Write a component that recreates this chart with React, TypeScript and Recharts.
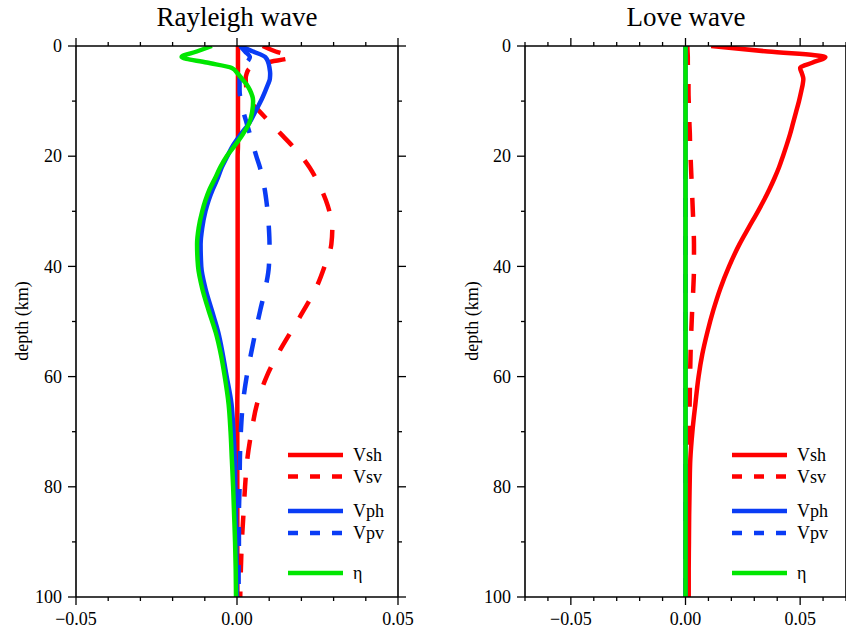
import React from 'react';
import { LineChart, Line, XAxis, YAxis, Legend } from 'recharts';

const depth = [0, 1, 2, 3, 4, 5, 6, 7, 8, 10, 12, 14, 16, 18, 20, 22, 24, 26, 28, 30, 33, 36, 40, 44, 48, 52, 56, 60, 65, 70, 75, 80, 85, 90, 95, 100];

// Rayleigh wave sensitivities
const rayVsh = [0.0003, 0.0003, 0.0003, 0.0003, 0.0003, 0.0003, 0.0003, 0.0003, 0.0003, 0.0003, 0.0003, 0.0003, 0.0003, 0.0003, 0.0002, 0.0002, 0.0002, 0.0002, 0.0002, 0.0002, 0.0002, 0.0002, 0.0002, 0.0002, 0.0002, 0.0002, 0.0002, 0.0002, 0.0001, 0.0001, 0.0001, 0.0001, 0.0001, 0.0001, 0.0001, 0.0001];
const rayVsv = [0.008, 0.012, 0.017, 0.009, 0.004, 0.003, 0.0027, 0.0028, 0.003, 0.004, 0.0072, 0.0104, 0.0137, 0.017, 0.02, 0.0225, 0.0245, 0.0262, 0.0276, 0.0287, 0.0296, 0.0293, 0.0272, 0.0245, 0.0207, 0.0166, 0.0126, 0.0092, 0.0062, 0.0045, 0.0032, 0.0025, 0.002, 0.0015, 0.0012, 0.001];
const rayVph = [0.001, 0.005, 0.0088, 0.0097, 0.0101, 0.0103, 0.0102, 0.0096, 0.0089, 0.0074, 0.0056, 0.0038, 0.0012, -0.0012, -0.003, -0.0047, -0.006, -0.0075, -0.0088, -0.0098, -0.0108, -0.0113, -0.0111, -0.0098, -0.0078, -0.0058, -0.0044, -0.0032, -0.0017, -0.0011, -0.0007, -0.0005, -0.0003, -0.0002, -0.0001, 0];
const rayVpv = [0.001, 0.0025, 0.004, 0.003, 0.0015, 0.001, 0.0008, 0.0008, 0.0008, 0.0012, 0.002, 0.003, 0.004, 0.005, 0.006, 0.0071, 0.0079, 0.0086, 0.0091, 0.0095, 0.0099, 0.0101, 0.0099, 0.0088, 0.0072, 0.0057, 0.0043, 0.003, 0.0018, 0.0012, 0.0009, 0.0008, 0.0006, 0.0006, 0.0005, 0.0005];
const rayEta = [-0.0078, -0.0125, -0.0172, -0.0094, -0.0016, 0.0002, 0.0016, 0.003, 0.004, 0.005, 0.0047, 0.0038, 0.0018, -0.0006, -0.0032, -0.0052, -0.0068, -0.0085, -0.0098, -0.0108, -0.0119, -0.0124, -0.0121, -0.0108, -0.0088, -0.0066, -0.005, -0.0038, -0.0026, -0.002, -0.0016, -0.0012, -0.0009, -0.0006, -0.0004, -0.0003];

// Love wave sensitivities
const loveVsh = [0.0112, 0.036, 0.061, 0.0555, 0.05, 0.0508, 0.0514, 0.0511, 0.0506, 0.0495, 0.0482, 0.0469, 0.0456, 0.0441, 0.0425, 0.0408, 0.0388, 0.0366, 0.0342, 0.0316, 0.0275, 0.0235, 0.019, 0.0152, 0.0121, 0.0095, 0.0073, 0.0057, 0.0043, 0.003, 0.0021, 0.0018, 0.0016, 0.0015, 0.0014, 0.0014];
const loveVsv = [0.0008, 0.0009, 0.001, 0.001, 0.0011, 0.0012, 0.0013, 0.0013, 0.0013, 0.0014, 0.0016, 0.0017, 0.0019, 0.002, 0.0022, 0.0024, 0.0026, 0.0028, 0.003, 0.0032, 0.0035, 0.0037, 0.0037, 0.0034, 0.0029, 0.0025, 0.0022, 0.002, 0.0018, 0.0015, 0.0013, 0.0012, 0.0011, 0.001, 0.001, 0.001];
const loveVph = [0, 0, 0, 0, 0, 0, 0, 0, 0, 0, 0, 0, 0, 0, 0, 0, 0, 0, 0, 0, 0, 0, 0, 0, 0, 0, 0, 0, 0, 0, 0, 0, 0, 0, 0, 0];
const loveVpv = [0, 0, 0, 0, 0, 0, 0, 0, 0, 0, 0, 0, 0, 0, 0, 0, 0, 0, 0, 0, 0, 0, 0, 0, 0, 0, 0, 0, 0, 0, 0, 0, 0, 0, 0, 0];
const loveEta = [0, 0, 0, 0, 0, 0, 0, 0, 0, 0, 0, 0, 0, 0, 0, 0, 0, 0, 0, 0, 0, 0, 0, 0, 0, 0, 0, 0, 0, 0, 0, 0, 0, 0, 0, 0];

const seriesNames = ['Vsh', 'Vsv', 'Vph', 'Vpv', 'η'];
const seriesKeys = ['vsh', 'vsv', 'vph', 'vpv', 'eta'];
const seriesColors = ['#ff0000', '#ff0000', '#0a3cf5', '#0a3cf5', '#00e600'];
const seriesDashed = [false, true, false, true, false];

const leftXTicks = [-0.05, -0.04, -0.03, -0.02, -0.01, 0, 0.01, 0.02, 0.03, 0.04, 0.05];
const rightXTicks = [-0.07, -0.06, -0.05, -0.04, -0.03, -0.02, -0.01, 0, 0.01, 0.02, 0.03, 0.04, 0.05, 0.06, 0.07];
const depthTicks = [0, 10, 20, 30, 40, 50, 60, 70, 80, 90, 100];

const rayleighRows = depth.map((d, i) => ({ depth: d, vsh: rayVsh[i], vsv: rayVsv[i], vph: rayVph[i], vpv: rayVpv[i], eta: rayEta[i] }));
const loveRows = depth.map((d, i) => ({ depth: d, vsh: loveVsh[i], vsv: loveVsv[i], vph: loveVph[i], vpv: loveVpv[i], eta: loveEta[i] }));

const FONT = "'Liberation Serif', 'Times New Roman', Times, serif";

const isMajorX = (v: number) => Math.abs(Math.round(v / 0.05) * 0.05 - v) < 1e-9;
const fmtX = (v: number) => (Math.abs(v) < 1e-12 ? '0.00' : (v < 0 ? '\u2212' : '') + Math.abs(v).toFixed(2));
const isMajorY = (v: number) => Math.round(v) % 20 === 0;

const makeXTick = (pos: 'top' | 'bottom') => (props: any) => {
  const { x, y, payload } = props;
  const v = Number(payload.value);
  const major = isMajorX(v);
  const len = major ? 8 : 4;
  if (pos === 'bottom') {
    return (
      <g>
        <line x1={x} x2={x} y1={y} y2={y + len} stroke="#000" strokeWidth={1.3} />
        {major && (
          <text x={x} y={y + 28} textAnchor="middle" fontSize={18} fontFamily={FONT} fill="#000">
            {fmtX(v)}
          </text>
        )}
      </g>
    );
  }
  return <line x1={x} x2={x} y1={y} y2={y - len} stroke="#000" strokeWidth={1.3} />;
};

const makeYTick = (pos: 'left' | 'right') => (props: any) => {
  const { x, y, payload } = props;
  const v = Number(payload.value);
  const major = isMajorY(v);
  const len = major ? 8 : 4;
  if (pos === 'left') {
    return (
      <g>
        <line x1={x - len} x2={x} y1={y} y2={y} stroke="#000" strokeWidth={1.3} />
        {major && (
          <text x={x - 14} y={y} dy="0.34em" textAnchor="end" fontSize={18} fontFamily={FONT} fill="#000">
            {String(v)}
          </text>
        )}
      </g>
    );
  }
  return <line x1={x} x2={x + len} y1={y} y2={y} stroke="#000" strokeWidth={1.3} />;
};

const legendRowY = [15, 36.5, 71, 93, 133];

const LegendBox = () => (
  <svg width={120} height={150} style={{ overflow: 'visible' }}>
    {seriesNames.map((name, i) => (
      <g key={name}>
        <line
          x1={8}
          x2={63}
          y1={legendRowY[i]}
          y2={legendRowY[i]}
          stroke={seriesColors[i]}
          strokeWidth={4.5}
          strokeDasharray={seriesDashed[i] ? '10 12' : undefined}
        />
        <text x={73} y={legendRowY[i]} dy="0.34em" fontSize={18} fontFamily={FONT} fill="#000">
          {name}
        </text>
      </g>
    ))}
  </svg>
);

const axisLineStyle = { stroke: '#000', strokeWidth: 1.6 };

type PanelProps = {
  rows: any[];
  xDomain: [number, number];
  xTicks: number[];
  width: number;
  margin: { top: number; right: number; bottom: number; left: number };
  legendLeft: number;
};

const Panel = ({ rows, xDomain, xTicks, width, margin, legendLeft }: PanelProps) => (
  <LineChart layout="vertical" width={width} height={633} data={rows} margin={margin}>
    <XAxis
      xAxisId="b"
      type="number"
      orientation="bottom"
      domain={xDomain}
      ticks={xTicks}
      interval={0}
      allowDataOverflow
      height={30}
      tickSize={0}
      tickMargin={0}
      tickLine={false}
      axisLine={axisLineStyle}
      tick={makeXTick('bottom')}
    />
    <XAxis
      xAxisId="t"
      type="number"
      orientation="top"
      domain={xDomain}
      ticks={xTicks}
      interval={0}
      allowDataOverflow
      height={20}
      tickSize={0}
      tickMargin={0}
      tickLine={false}
      axisLine={axisLineStyle}
      tick={makeXTick('top')}
    />
    <YAxis
      yAxisId="l"
      type="number"
      dataKey="depth"
      orientation="left"
      domain={[0, 100]}
      ticks={depthTicks}
      interval={0}
      allowDataOverflow
      width={60}
      tickSize={0}
      tickMargin={0}
      tickLine={false}
      axisLine={axisLineStyle}
      tick={makeYTick('left')}
    />
    <YAxis
      yAxisId="r"
      type="number"
      dataKey="depth"
      orientation="right"
      domain={[0, 100]}
      ticks={depthTicks}
      interval={0}
      allowDataOverflow
      width={20}
      tickSize={0}
      tickMargin={0}
      tickLine={false}
      axisLine={axisLineStyle}
      tick={makeYTick('right')}
    />
    {seriesKeys.map((k, i) => (
      <Line
        key={k}
        xAxisId="b"
        yAxisId="l"
        dataKey={k}
        name={seriesNames[i]}
        type="monotone"
        stroke={seriesColors[i]}
        strokeWidth={4.5}
        strokeDasharray={seriesDashed[i] ? '19 19' : undefined}
        dot={false}
        activeDot={false}
        isAnimationActive={false}
      />
    ))}
    <Legend
      layout="vertical"
      align="center"
      verticalAlign="middle"
      content={() => <LegendBox />}
      wrapperStyle={{ left: legendLeft, top: 440, width: 120, height: 150 }}
    />
  </LineChart>
);

export default function App() {
  return (
    <div style={{ position: 'absolute', left: 0, top: 0, width: 846, height: 633, overflow: 'hidden', background: '#fff' }}>
      <div style={{ position: 'absolute', left: 0, top: 0 }}>
        <Panel
          rows={rayleighRows}
          xDomain={[-0.05, 0.05]}
          xTicks={leftXTicks}
          width={420}
          margin={{ top: 26, right: 2, bottom: 6, left: 16 }}
          legendLeft={280}
        />
      </div>
      <div style={{ position: 'absolute', left: 420, top: 0 }}>
        <Panel
          rows={loveRows}
          xDomain={[-0.07, 0.07]}
          xTicks={rightXTicks}
          width={446}
          margin={{ top: 26, right: 0, bottom: 6, left: 45 }}
          legendLeft={304}
        />
      </div>
      <svg width={846} height={633} style={{ position: 'absolute', left: 0, top: 0, pointerEvents: 'none' }}>
        <text x={237} y={26} textAnchor="middle" fontSize={27} fontFamily={FONT} fill="#000">Rayleigh wave</text>
        <text x={686} y={26} textAnchor="middle" fontSize={27} fontFamily={FONT} fill="#000">Love wave</text>
        <text x={22} y={321} transform="rotate(-90 22 321)" dy="0.34em" textAnchor="middle" fontSize={18} fontFamily={FONT} fill="#000">depth (km)</text>
        <text x={472} y={321} transform="rotate(-90 472 321)" dy="0.34em" textAnchor="middle" fontSize={18} fontFamily={FONT} fill="#000">depth (km)</text>
      </svg>
    </div>
  );
}
